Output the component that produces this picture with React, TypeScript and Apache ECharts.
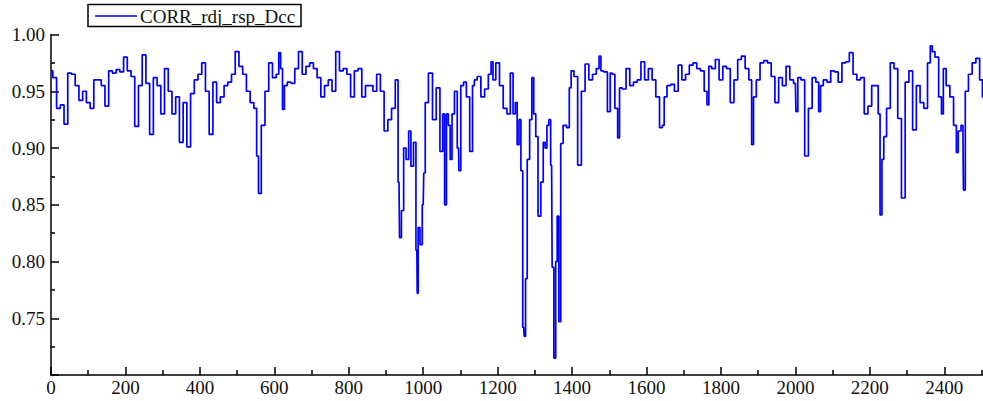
import React, { useEffect, useRef } from "react";
import * as echarts from "echarts";

const xIndex = [
  0, 10, 20, 30, 40, 50, 60, 70, 80, 90, 100, 110, 120, 130, 140, 150, 160, 170, 180, 190,
  200, 210, 220, 230, 240, 250, 260, 270, 280, 290, 300, 310, 320, 330, 340, 350, 360, 370, 380, 390,
  400, 410, 420, 430, 440, 450, 460, 470, 480, 490, 500, 510, 520, 530, 540, 550, 555, 560, 570, 580,
  590, 600, 610, 614, 620, 624, 630, 640, 650, 660, 670, 680, 690, 700, 710, 720, 730, 740, 750, 760,
  770, 780, 790, 800, 810, 820, 830, 840, 850, 860, 870, 880, 890, 900, 910, 920, 930, 935, 938, 945,
  950, 958, 964, 970, 978, 983, 985, 988, 995, 1000, 1003, 1008, 1020, 1030, 1040, 1050, 1055, 1060, 1065, 1070,
  1075, 1080, 1088, 1095, 1097, 1105, 1112, 1120, 1130, 1135, 1140, 1150, 1160, 1170, 1180, 1185, 1190, 1200, 1210, 1220,
  1230, 1238, 1245, 1250, 1255, 1260, 1265, 1270, 1273, 1277, 1282, 1290, 1294, 1300, 1305, 1312, 1320, 1325, 1330, 1335,
  1340, 1345, 1348, 1354, 1358, 1362, 1367, 1372, 1380, 1390, 1395, 1400, 1410, 1420, 1430, 1440, 1450, 1460, 1470, 1475,
  1480, 1490, 1500, 1505, 1510, 1520, 1525, 1530, 1540, 1550, 1560, 1570, 1580, 1590, 1600, 1610, 1620, 1630, 1640, 1645,
  1650, 1660, 1670, 1680, 1690, 1700, 1710, 1720, 1730, 1740, 1750, 1760, 1765, 1770, 1780, 1790, 1800, 1810, 1820, 1830,
  1840, 1850, 1860, 1870, 1880, 1885, 1890, 1900, 1910, 1920, 1930, 1940, 1950, 1960, 1970, 1980, 1990, 2000, 2003, 2010,
  2020, 2030, 2040, 2050, 2060, 2065, 2070, 2080, 2090, 2100, 2110, 2120, 2130, 2140, 2150, 2160, 2170, 2180, 2190, 2200,
  2210, 2220, 2225, 2230, 2235, 2240, 2250, 2260, 2270, 2280, 2290, 2300, 2310, 2320, 2330, 2340, 2350, 2360, 2365, 2370,
  2380, 2390, 2395, 2400, 2410, 2420, 2430, 2435, 2440, 2450, 2453, 2460, 2470, 2480, 2490, 2500, 2505, 2512,
];

const corr = [
  0.968, 0.962, 0.935, 0.938, 0.921, 0.966, 0.965, 0.955, 0.942, 0.95, 0.94, 0.935, 0.96, 0.96, 0.955, 0.937, 0.968, 0.966, 0.969, 0.967,
  0.98, 0.968, 0.963, 0.919, 0.955, 0.982, 0.957, 0.912, 0.962, 0.955, 0.93, 0.97, 0.95, 0.93, 0.945, 0.905, 0.94, 0.901, 0.948, 0.96,
  0.965, 0.975, 0.95, 0.912, 0.958, 0.94, 0.945, 0.955, 0.958, 0.965, 0.985, 0.972, 0.965, 0.95, 0.94, 0.935, 0.893, 0.86, 0.92, 0.95,
  0.975, 0.962, 0.965, 0.984, 0.97, 0.934, 0.955, 0.958, 0.957, 0.97, 0.985, 0.965, 0.972, 0.975, 0.97, 0.962, 0.945, 0.955, 0.96, 0.95,
  0.985, 0.968, 0.97, 0.965, 0.945, 0.968, 0.97, 0.945, 0.955, 0.955, 0.95, 0.965, 0.95, 0.915, 0.925, 0.935, 0.96, 0.87, 0.821, 0.845,
  0.9, 0.89, 0.915, 0.884, 0.905, 0.81, 0.772, 0.83, 0.815, 0.85, 0.878, 0.94, 0.966, 0.925, 0.953, 0.897, 0.93, 0.85, 0.93, 0.92,
  0.89, 0.93, 0.95, 0.9, 0.88, 0.955, 0.958, 0.945, 0.897, 0.955, 0.96, 0.963, 0.945, 0.952, 0.965, 0.976, 0.96, 0.975, 0.955, 0.935,
  0.93, 0.966, 0.93, 0.94, 0.903, 0.925, 0.88, 0.742, 0.734, 0.785, 0.89, 0.925, 0.962, 0.93, 0.91, 0.84, 0.87, 0.905, 0.9, 0.92,
  0.925, 0.885, 0.795, 0.715, 0.8, 0.84, 0.747, 0.904, 0.92, 0.918, 0.953, 0.968, 0.963, 0.885, 0.95, 0.974, 0.96, 0.965, 0.97, 0.981,
  0.968, 0.967, 0.932, 0.966, 0.965, 0.935, 0.909, 0.953, 0.952, 0.97, 0.955, 0.958, 0.96, 0.976, 0.96, 0.97, 0.96, 0.945, 0.918, 0.92,
  0.945, 0.955, 0.956, 0.95, 0.973, 0.96, 0.965, 0.973, 0.975, 0.97, 0.968, 0.95, 0.938, 0.972, 0.97, 0.978, 0.96, 0.972, 0.97, 0.94,
  0.96, 0.978, 0.981, 0.97, 0.96, 0.903, 0.945, 0.96, 0.975, 0.977, 0.975, 0.963, 0.94, 0.962, 0.955, 0.972, 0.96, 0.957, 0.932, 0.962,
  0.96, 0.893, 0.935, 0.962, 0.958, 0.932, 0.955, 0.96, 0.958, 0.968, 0.967, 0.958, 0.975, 0.976, 0.984, 0.965, 0.96, 0.962, 0.93, 0.937,
  0.955, 0.955, 0.93, 0.841, 0.89, 0.91, 0.935, 0.975, 0.97, 0.926, 0.856, 0.958, 0.968, 0.916, 0.955, 0.94, 0.935, 0.975, 0.99, 0.985,
  0.98, 0.945, 0.93, 0.97, 0.955, 0.945, 0.92, 0.896, 0.915, 0.92, 0.863, 0.95, 0.965, 0.975, 0.979, 0.96, 0.945, 0.94,
];

const seriesName = "CORR_rdj_rsp_Dcc";
const FONT = "'Liberation Serif', 'Times New Roman', serif";

export default function App() {
  const ref = useRef<HTMLDivElement>(null);
  useEffect(() => {
    if (!ref.current) return;
    const chart = echarts.init(ref.current, undefined, { renderer: "svg" });
    const data = xIndex.map((x, i) => [x, corr[i]]);
    chart.setOption({
      animation: false,
      backgroundColor: "#ffffff",
      grid: { left: 51, top: 34.5, width: 967.7, height: 340.6, outerBoundsMode: "none", containLabel: false },
      xAxis: {
        type: "value",
        min: 0,
        max: 2600,
        interval: 200,
        axisLine: { show: true, lineStyle: { color: "#000", width: 1.5 } },
        axisTick: { show: true, inside: true, length: 8, lineStyle: { color: "#000", width: 1.5 } },
        minorTick: { show: true, splitNumber: 2, length: 5, lineStyle: { color: "#000", width: 1.5 } },
        axisLabel: {
          color: "#111",
          fontFamily: FONT,
          fontSize: 19,
          margin: 3,
          showMaxLabel: false,
          formatter: (v: number) => (v > 2400 ? "" : String(Math.round(v))),
        },
        splitLine: { show: false },
        minorSplitLine: { show: false },
      },
      yAxis: {
        type: "value",
        min: 0.7,
        max: 1.0,
        interval: 0.05,
        axisLine: { show: true, lineStyle: { color: "#000", width: 1.5 } },
        axisTick: { show: true, inside: true, length: 8, lineStyle: { color: "#000", width: 1.5 } },
        minorTick: { show: true, splitNumber: 2, length: 4, lineStyle: { color: "#000", width: 1.5 } },
        axisLabel: {
          color: "#111",
          fontFamily: FONT,
          fontSize: 19,
          margin: 6,
          showMinLabel: false,
          formatter: (v: number) => v.toFixed(2),
        },
        splitLine: { show: false },
        minorSplitLine: { show: false },
      },
      series: [
        {
          name: seriesName,
          type: "line",
          data,
          step: "middle",
          symbol: "none",
          lineStyle: { color: "#0000ff", width: 1.7 },
          clip: true,
        },
      ],
      graphic: [
        {
          type: "rect",
          shape: { x: 88, y: 4.5, width: 213, height: 22 },
          style: { fill: "#fff", stroke: "#000", lineWidth: 1.5 },
          z: 100,
        },
        {
          type: "line",
          shape: { x1: 95, y1: 16, x2: 137, y2: 16 },
          style: { stroke: "#0000ff", lineWidth: 1.5 },
          z: 101,
        },
        {
          type: "text",
          x: 140,
          y: 16,
          style: {
            text: seriesName,
            fill: "#111",
            font: `19px ${FONT}`,
            verticalAlign: "middle",
            align: "left",
          },
          z: 101,
        },
      ],
    });
    return () => chart.dispose();
  }, []);
  return (
    <div
      ref={ref}
      style={{ position: "fixed", left: 0, top: 0, width: 983, height: 401, overflow: "hidden" }}
    />
  );
}
